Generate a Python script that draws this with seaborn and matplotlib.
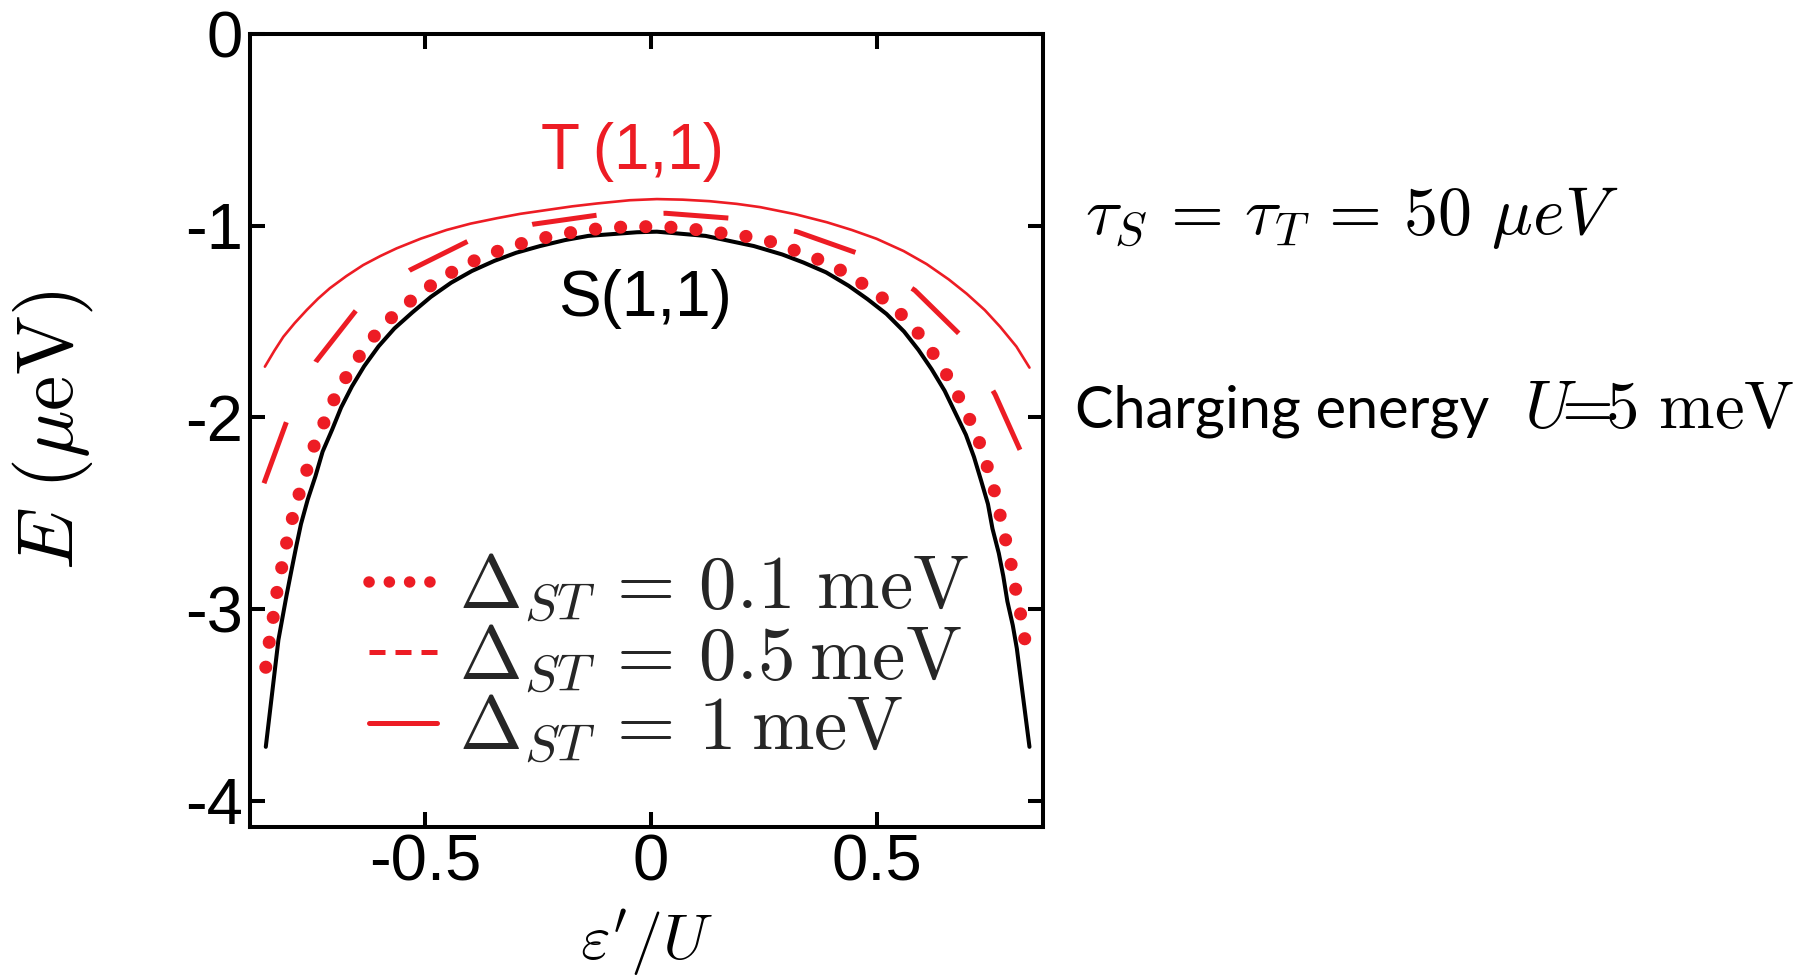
import matplotlib
matplotlib.use("Agg")
import matplotlib.pyplot as plt
from matplotlib.lines import Line2D
import pandas as pd
import seaborn as sns

# ---- data: reduced detuning eps'/U and level energies E ----
# S(1,1) singlet branch
eps_singlet = [-0.854, -0.826, -0.808, -0.797, -0.786, -0.776, -0.761, -0.744,
               -0.728, -0.707, -0.687, -0.663, -0.636, -0.604, -0.569, -0.529,
               -0.488, -0.443, -0.397, -0.347, -0.299, -0.246, -0.191, -0.139,
               -0.031, 0.013, 0.121, 0.228, 0.291, 0.338, 0.388, 0.438, 0.480,
               0.522, 0.561, 0.593, 0.622, 0.651, 0.674, 0.698, 0.716, 0.732,
               0.747, 0.757, 0.771, 0.781, 0.790, 0.802, 0.811, 0.839]
E_singlet = [-3.718, -3.160, -2.928, -2.796, -2.667, -2.556, -2.428, -2.307,
             -2.178, -2.064, -1.948, -1.838, -1.733, -1.629, -1.536, -1.452,
             -1.371, -1.297, -1.236, -1.183, -1.141, -1.106, -1.075, -1.053,
             -1.034, -1.031, -1.053, -1.106, -1.150, -1.192, -1.243, -1.313,
             -1.383, -1.460, -1.552, -1.648, -1.748, -1.861, -1.973, -2.090,
             -2.206, -2.331, -2.452, -2.580, -2.708, -2.828, -2.959, -3.084,
             -3.205, -3.718]

# T(1,1) triplet branch, Delta_ST = 0.1 meV
eps_t01 = [-0.854, -0.847, -0.838, -0.830, -0.819, -0.808, -0.797, -0.782,
           -0.765, -0.749, -0.728, -0.707, -0.682, -0.654, -0.621, -0.585,
           -0.544, -0.500, -0.453, -0.405, -0.353, -0.304, -0.250, -0.194,
           -0.141, -0.087, -0.032, 0.024, 0.079, 0.131, 0.190, 0.251, 0.297,
           0.345, 0.397, 0.449, 0.493, 0.537, 0.578, 0.611, 0.641, 0.670,
           0.694, 0.719, 0.737, 0.753, 0.768, 0.779, 0.792, 0.803, 0.812,
           0.824, 0.831]
E_t01 = [-3.303, -3.181, -3.050, -2.920, -2.787, -2.656, -2.543, -2.413,
         -2.291, -2.161, -2.044, -1.926, -1.813, -1.705, -1.596, -1.500,
         -1.413, -1.331, -1.257, -1.196, -1.144, -1.103, -1.070, -1.042,
         -1.022, -1.009, -1.005, -1.005, -1.013, -1.031, -1.048, -1.071,
         -1.111, -1.151, -1.201, -1.271, -1.341, -1.421, -1.517, -1.617,
         -1.720, -1.836, -1.950, -2.070, -2.190, -2.316, -2.440, -2.569,
         -2.696, -2.819, -2.949, -3.075, -3.199]

# T(1,1) triplet branch, Delta_ST = 0.5 meV
eps_t05 = [-0.858, -0.808, -0.743, -0.653, -0.534, -0.405, -0.261, -0.120,
           0.033, 0.177, 0.323, 0.460, 0.585, 0.689, 0.763, 0.822, 0.839]
E_t05 = [-2.343, -2.022, -1.709, -1.439, -1.231, -1.080, -0.992, -0.945,
         -0.935, -0.961, -1.031, -1.145, -1.337, -1.577, -1.881, -2.190, -2.330]

# T(1,1) triplet branch, Delta_ST = 1 meV
eps_t1 = [-0.856, -0.835, -0.815, -0.790, -0.763, -0.738, -0.712, -0.675,
          -0.638, -0.600, -0.564, -0.510, -0.453, -0.400, -0.342, -0.290,
          -0.231, -0.175, -0.120, -0.047, 0.013, 0.070, 0.130, 0.190, 0.242,
          0.320, 0.390, 0.445, 0.500, 0.560, 0.611, 0.660, 0.700, 0.740,
          0.774, 0.810, 0.839]
E_t1 = [-1.735, -1.652, -1.579, -1.508, -1.439, -1.380, -1.326, -1.262,
        -1.205, -1.158, -1.118, -1.067, -1.022, -0.989, -0.961, -0.938,
        -0.918, -0.899, -0.884, -0.867, -0.861, -0.864, -0.872, -0.886,
        -0.903, -0.940, -0.982, -1.022, -1.068, -1.132, -1.200, -1.280,
        -1.355, -1.440, -1.527, -1.630, -1.740]

legend_labels = [r"$\Delta_{ST}\,=\,0.1\ \mathrm{meV}$",
                 r"$\Delta_{ST}\,=\,0.5\:\mathrm{meV}$",
                 r"$\Delta_{ST}\,=\,1\:\mathrm{meV}$"]
xtick_values = [-0.5, 0.0, 0.5]
xtick_labels = ["-0.5", "0", "0.5"]
ytick_values = [0, -1, -2, -3, -4]
ytick_labels = ["0", "-1", "-2", "-3", "-4"]

# ---- style ----
sns.set_theme(style="white")
plt.rcParams["font.family"] = ["Liberation Sans", "DejaVu Sans"]
plt.rcParams["mathtext.fontset"] = "cm"
plt.rcParams["axes.unicode_minus"] = False

RED = "#ED1C24"
W, H = 1813, 976
fig = plt.figure(figsize=(W / 100, H / 100), dpi=100)
ax = fig.add_axes([250 / W, 1 - 827 / H, 793 / W, 793 / H])


def draw(x, y, **kw):
    df = pd.DataFrame({"eps": x, "E": y})
    sns.lineplot(data=df, x="eps", y="E", ax=ax, sort=False, estimator=None, **kw)
    return ax.lines[-1]


draw(eps_singlet, E_singlet, color="black", linewidth=2.9)
ln = draw(eps_t01, E_t01, color=RED, linewidth=9.4)
ln.set_linestyle((0, (0.01, 1.92)))
ln.set_dash_capstyle("round")
ln = draw(eps_t05, E_t05, color=RED, linewidth=3.6)
ln.set_linestyle((0, (13.0, 13.4)))
ln.set_dash_capstyle("butt")
draw(eps_t1, E_t1, color=RED, linewidth=1.9)

ax.set_xlim(-0.889, 0.869)
ax.set_ylim(-4.136, 0)
ax.set_xticks(xtick_values)
ax.set_xticklabels(xtick_labels)
ax.set_yticks(ytick_values)
ax.set_yticklabels(ytick_labels)
ax.tick_params(direction="in", length=10.8, width=2.9, color="black",
               bottom=True, left=True, top=True, right=True,
               labelsize=47, pad=5, labelcolor="black")
for sp in ax.spines.values():
    sp.set_visible(True)
    sp.set_linewidth(2.9)
    sp.set_color("black")

ax.set_xlabel(r"$\varepsilon'/U$", fontsize=46, color="black")
ax.xaxis.set_label_coords(0.5, -0.102)
ax.set_ylabel(r"$E\ (\mu\mathrm{eV})$", fontsize=57, color="black")
ax.yaxis.set_label_coords(-0.196, 0.5)

ax.text(-0.042, -0.615, "T\u2009(1,1)", color=RED, fontsize=46,
        ha="center", va="center")
ax.text(-0.013, -1.382, "S(1,1)", color="black", fontsize=46,
        ha="center", va="center")

handles = [
    Line2D([], [], color=RED, linewidth=8.3, linestyle=(0, (0.01, 1.75)),
           dash_capstyle="round"),
    Line2D([], [], color=RED, linewidth=3.6, linestyle=(0, (3.2, 2.0))),
    Line2D([], [], color=RED, linewidth=3.6, linestyle="-"),
]
ax.legend(handles, legend_labels, loc="upper left",
          bbox_to_anchor=((369 - 250) / 793, (827 - 551) / 793),
          frameon=False, fontsize=54, handlelength=0.9, handletextpad=0.3,
          labelspacing=-0.03, borderpad=0, borderaxespad=0)

fig.text(1085 / W, 1 - 234 / H, r"$\tau_S\,=\,\tau_T\,=\,50\ \mu eV$",
         fontsize=49, va="baseline", ha="left", color="black")
fig.text(1075 / W, 1 - 428 / H, "Charging energy", family="Lato",
         fontsize=41.5, va="baseline", ha="left", color="black")
fig.text(1524 / W, 1 - 428 / H, r"$U\!\!=\!\!5\ \mathrm{meV}$",
         fontsize=48, va="baseline", ha="left", color="black")

fig.savefig("out.png", dpi=100, facecolor="white")
